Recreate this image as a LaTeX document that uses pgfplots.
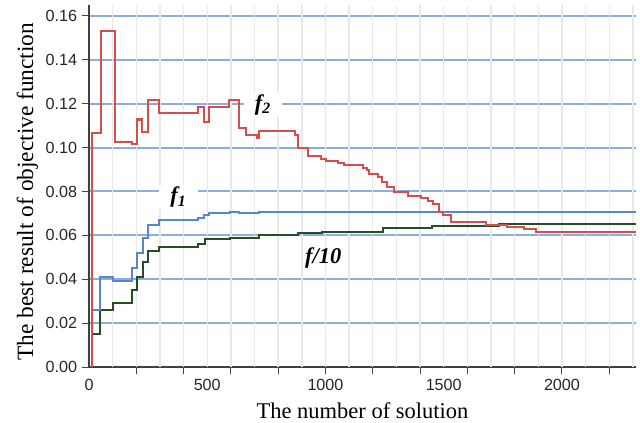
\documentclass[border=0pt]{standalone}
\usepackage{fontspec}
\setmainfont{Liberation Serif}
\newfontfamily\arial{Liberation Sans}
\usepackage{pgfplots}
\pgfplotsset{compat=1.18}

\definecolor{redline}{RGB}{212,78,78}
\definecolor{blueline}{RGB}{86,134,206}
\definecolor{greenline}{RGB}{38,78,38}
\definecolor{hgrid}{RGB}{140,174,220}
\definecolor{vgrid}{RGB}{232,232,232}

\begin{document}
\begin{tikzpicture}[x=1cm,y=1cm]
\begin{axis}[
    scale only axis,
    width=13.675cm, height=9.05cm,
    xmin=0, xmax=2313,
    ymin=0, ymax=0.165,
    axis x line*=bottom, axis y line*=left,
    axis line style={draw=black!75, line width=0.9pt, -},
    xtick={0,500,1000,1500,2000},
    major x tick style={draw=none},
    minor xtick={200,400,...,2200},
    minor x tick style={draw=black!75, line width=0.7pt},
    minor tick length=5pt,
    extra x ticks={100,200,...,2300},
    extra x tick labels={},
    extra x tick style={xmajorgrids=true, ymajorgrids=false, major tick length=0pt,
        major grid style={vgrid, line width=1pt}},
    ytick={0,0.02,0.04,0.06,0.08,0.10,0.12,0.14,0.16},
    ymajorgrids=true,
    major grid style={hgrid, line width=1.4pt},
    tick align=outside,
    y tick style={draw=black!75, line width=0.7pt},
    major tick length=5pt,
    yticklabel style={/pgf/number format/fixed, /pgf/number format/precision=2, /pgf/number format/fixed zerofill},
    scaled y ticks=false,
    /pgf/number format/1000 sep={},
    /pgf/number format/assume math mode=true,
    tick label style={font=\arial\fontsize{11.5}{13}\selectfont, text=black!85},
    xlabel={The number of solution},
    ylabel={The best result of objective function},
    xlabel style={font=\fontsize{16}{18}\selectfont, yshift=3pt},
    ylabel style={font=\fontsize{16.6}{18}\selectfont, yshift=-1.5pt, xshift=-4pt},
    const plot,
    clip=true,
]
\addplot[greenline, line width=1.45pt] coordinates {
(14,0) (14,0.015) (47,0.026) (103,0.029) (180,0.0351) (204,0.0411) (230,0.048)
(251,0.053) (297,0.0548) (462,0.056) (490,0.0582) (596,0.059) (720,0.0603)
(885,0.0609) (984,0.0617) (1242,0.0632) (1449,0.0642) (1735,0.065) (2313,0.065)
};
\addplot[blueline, line width=1.45pt] coordinates {
(14,0) (14,0.026) (47,0.0411) (103,0.0392) (180,0.045) (204,0.0518) (230,0.0586)
(251,0.0647) (297,0.067) (462,0.0677) (486,0.0692) (509,0.070) (596,0.0708)
(636,0.070) (720,0.0708) (2313,0.0708)
};
\addplot[redline, line width=1.45pt] coordinates {
(14,0) (14,0.1065) (49,0.153) (109,0.1026) (180,0.1016) (204,0.1128) (223,0.107)
(251,0.1216) (297,0.1157) (462,0.1186) (486,0.1116) (509,0.1186) (593,0.1216)
(636,0.1089) (662,0.1057) (709,0.1046) (720,0.1075) (871,0.1057) (885,0.0999)
(927,0.096) (980,0.0949) (1002,0.0939) (1052,0.0928) (1080,0.092) (1160,0.0908)
(1174,0.0897) (1185,0.0878) (1221,0.0867) (1238,0.0844) (1261,0.0819) (1290,0.0799)
(1350,0.0778) (1403,0.0769) (1435,0.0758) (1456,0.0745) (1481,0.0705) (1496,0.0692)
(1529,0.0662) (1552,0.0659) (1679,0.0647) (1769,0.0639) (1839,0.0629) (1890,0.0616)
(2313,0.0616)
};
\node[fill=white, inner xsep=8pt, inner ysep=1pt, font=\fontsize{16}{18}\selectfont\bfseries\itshape]
  at (axis cs:735,0.1195) {f\textsubscript{2}};
\node[fill=white, inner xsep=8pt, inner ysep=1pt, font=\fontsize{16}{18}\selectfont\bfseries\itshape]
  at (axis cs:378,0.0775) {f\textsubscript{1}};
\node[font=\fontsize{16}{18}\selectfont\bfseries\itshape]
  at (axis cs:990,0.0495) {f/10};
\end{axis}
\pgfresetboundingbox
\path[use as bounding box] (-2.225,-1.4) rectangle (13.775,9.175);
\end{tikzpicture}
\end{document}
